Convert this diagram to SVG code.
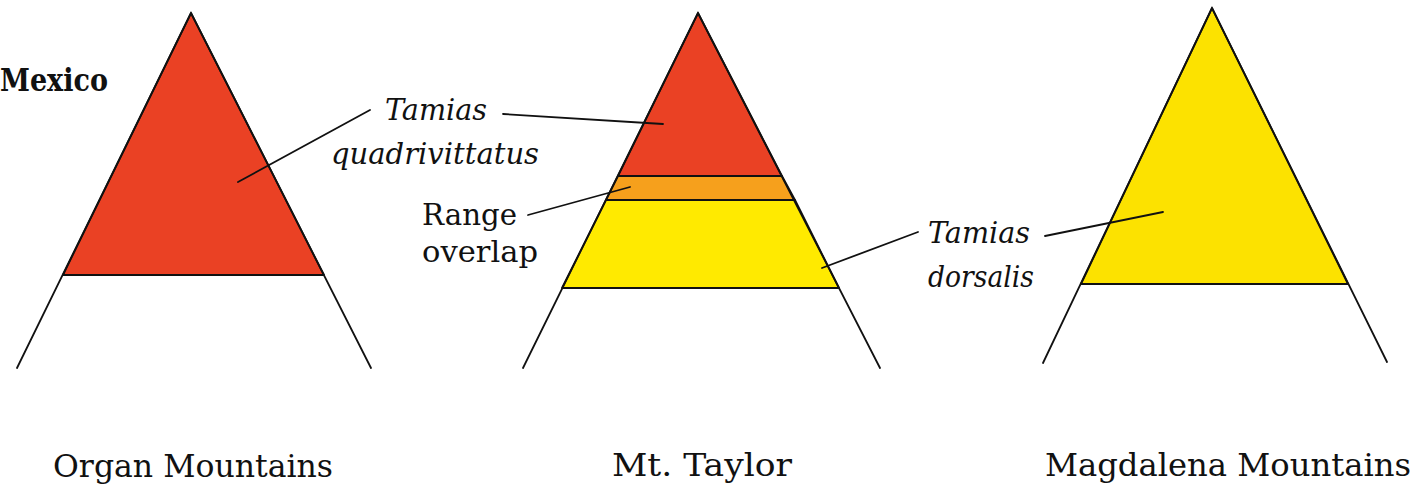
<svg xmlns="http://www.w3.org/2000/svg" width="1420" height="489" viewBox="0 0 1420 489">
<style>
.edge{fill:none;stroke:#111;stroke-width:1.8;stroke-linecap:round}
.band{stroke:#111;stroke-width:1.8;stroke-linejoin:round}
.red{fill:#EA4124}
.orange{fill:#F6A01C}
.yellow{fill:#FFEA00}
.yellow2{fill:#FCE200}
.lead{fill:none;stroke:#111;stroke-width:1.8;stroke-linecap:round}
text{font-family:"DejaVu Serif","Liberation Serif",serif;fill:#111}
.lbl{font-size:31px}
.it{font-style:italic;font-size:30px}
.rg{font-size:29px}
.bold{font-weight:bold;font-size:31px}
</style>
<rect width="1420" height="489" fill="#fff"/>
<g id="organ">
<polygon class="band red" points="191,13 324,275 63,275"/>
<polyline class="edge" points="17,368 191,13 371,368"/>
<text class="lbl" x="53" y="477" textLength="280" lengthAdjust="spacingAndGlyphs">Organ Mountains</text>
</g>
<g id="taylor">
<polygon class="band red" points="698,13 782,176 618,176"/>
<polygon class="band orange" points="618,176 782,176 795,200 606,200"/>
<polygon class="band yellow" points="606,200 795,200 839,288 562,288"/>
<polyline class="edge" points="523,368 698,13 880,368"/>
<text class="lbl" x="612" y="476" textLength="180" lengthAdjust="spacingAndGlyphs">Mt. Taylor</text>
</g>
<g id="magdalena">
<polygon class="band yellow2" points="1212,8 1348,284 1081,284"/>
<polyline class="edge" points="1043,363 1212,8 1387,362"/>
<text class="lbl" x="1045" y="476" textLength="366" lengthAdjust="spacingAndGlyphs">Magdalena Mountains</text>
</g>
<g id="labels">
<text class="bold" x="0" y="91" textLength="108" lengthAdjust="spacingAndGlyphs">Mexico</text>
<text class="it" x="385" y="120" textLength="102" lengthAdjust="spacingAndGlyphs">Tamias</text>
<text class="it" x="331" y="164" textLength="208" lengthAdjust="spacingAndGlyphs">quadrivittatus</text>
<text class="rg" x="422" y="225" textLength="95" lengthAdjust="spacingAndGlyphs">Range</text>
<text class="rg" x="422" y="262" textLength="116" lengthAdjust="spacingAndGlyphs">overlap</text>
<text class="it" x="928" y="243" textLength="102" lengthAdjust="spacingAndGlyphs">Tamias</text>
<text class="it" x="928" y="287" textLength="106" lengthAdjust="spacingAndGlyphs">dorsalis</text>
</g>
<g id="connectors">
<line class="lead" x1="370" y1="110" x2="238" y2="182"/>
<line class="lead" x1="503" y1="114" x2="663" y2="124"/>
<line class="lead" x1="528" y1="215" x2="630" y2="187"/>
<line class="lead" x1="918" y1="232" x2="822" y2="268"/>
<line class="lead" x1="1045" y1="236" x2="1163" y2="212"/>
</g>
</svg>
